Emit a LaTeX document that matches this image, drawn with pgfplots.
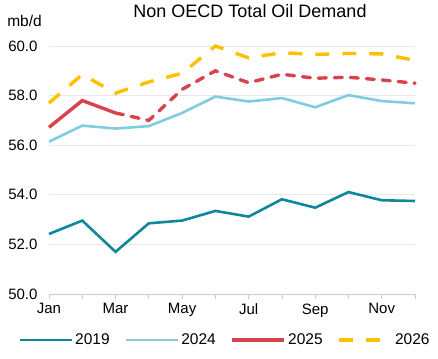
\documentclass[border=0pt]{standalone}
\usepackage{fontspec}
\setmainfont{Liberation Sans}
\usepackage{pgfplots}
\pgfplotsset{compat=1.18}
\definecolor{c19}{HTML}{0E879B}
\definecolor{c24}{HTML}{7FCCE0}
\definecolor{c25}{HTML}{D6434A}
\definecolor{c26}{HTML}{FFC000}
\begin{document}
\begin{tikzpicture}
\path[use as bounding box] (-49pt,-64pt) rectangle (389pt,294pt);
\begin{axis}[
  scale only axis, width=366pt, height=248pt,
  xmin=1, xmax=12, ymin=50, ymax=60,
  axis x line*=bottom, axis y line*=left,
  x axis line style={draw=gray!40, line width=0.8pt},
  y axis line style={draw=none},
  ytick style={draw=none},
  x tick style={draw=gray!40, line width=0.8pt},
  tick align=outside, major tick length=5pt,
  ytick={50,52,...,60},
  yticklabel style={/pgf/number format/fixed, /pgf/number format/fixed zerofill, /pgf/number format/precision=1, xshift=-3pt},
  xtick={1,...,12},
  xticklabels={Jan,,Mar,,May,,Jul,,Sep,,Nov,},
  xticklabel style={yshift=-1pt},
  ymajorgrids, grid style={draw=gray!18, line width=0.8pt},
  /pgf/number format/assume math mode=true,
  ticklabel style={font=\fontsize{15}{15}\selectfont},
  clip=false,
  legend columns=4,
  legend style={at={(0.481,-0.185)}, anchor=center, draw=none, fill=none,
    font=\fontsize{15.5}{15.5}\selectfont, column sep=0pt,
    nodes={inner sep=2pt},
    /tikz/every even column/.append style={column sep=13pt}},
  legend image code/.code={\draw[#1] (0pt,0pt) -- (52pt,0pt);},
]
\addplot[c19, line width=2.6pt] coordinates {
(1,52.42) (2,52.96) (3,51.70) (4,52.85) (5,52.96) (6,53.35)
(7,53.12) (8,53.82) (9,53.48) (10,54.11) (11,53.78) (12,53.75)};
\addlegendentry{2019}
\addplot[c24, line width=2.6pt] coordinates {
(1,56.14) (2,56.79) (3,56.67) (4,56.77) (5,57.30) (6,57.96)
(7,57.76) (8,57.90) (9,57.53) (10,58.02) (11,57.78) (12,57.69)};
\addlegendentry{2024}
\addplot[c25, line width=3.4pt] coordinates {
(1,56.72) (2,57.80) (3,57.30)};
\addlegendentry{2025}
\addplot[c26, line width=3.4pt, dash pattern=on 14pt off 13pt] coordinates {
(1,57.70) (2,58.85) (3,58.10) (4,58.55) (5,58.90) (6,60.00)
(7,59.52) (8,59.73) (9,59.66) (10,59.70) (11,59.68) (12,59.42)};
\addlegendentry{2026}
\addplot[c25, line width=3.4pt, line cap=round, dash pattern=on 8pt off 8pt, forget plot] coordinates {
(3,57.30) (4,57.00) (5,58.25) (6,59.00) (7,58.52) (8,58.86)
(9,58.70) (10,58.74) (11,58.63) (12,58.50)};
\end{axis}
\node[font=\fontsize{18}{18}\selectfont, anchor=base] at (201pt,276pt) {Non OECD Total Oil Demand};
\node[font=\fontsize{15.5}{15.5}\selectfont, anchor=base] at (-24.5pt,267pt) {mb/d};
\end{tikzpicture}
\end{document}
